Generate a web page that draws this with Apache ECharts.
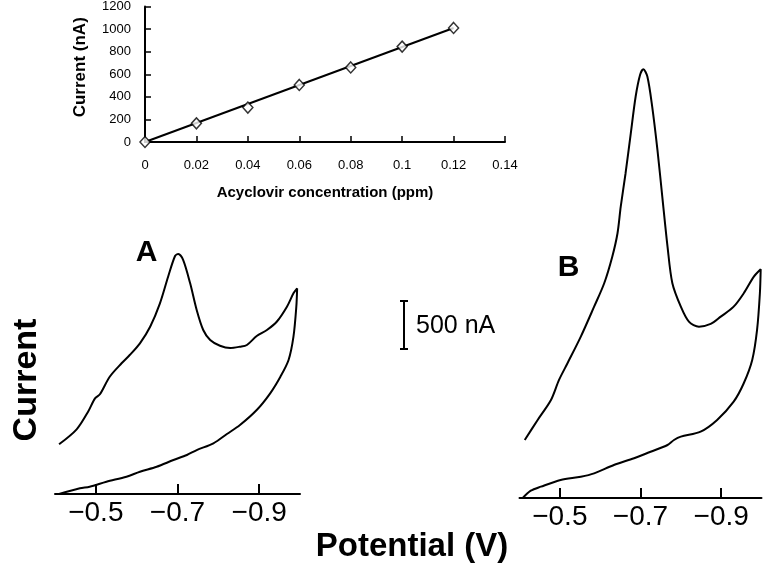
<!DOCTYPE html>
<html>
<head>
<meta charset="utf-8">
<script src="https://cdn.jsdelivr.net/npm/echarts@6/dist/echarts.min.js"></script>
<style>
  html, body { margin: 0; padding: 0; background: #fff; }
  #chart { width: 763px; height: 571px; }
</style>
</head>
<body>
<div id="chart"></div>
<script>
// inset: calibration
const concentrations = [0, 0.02, 0.04, 0.06, 0.08, 0.1, 0.12]
const peakCurrents = [0, 165, 305, 505, 660, 845, 1010]
const fitLine = [[0, 0], [0.12, 1010]]

// voltammograms (potential in V, current in nA above baseline)
const potentialA = [
  -0.410, -0.453, -0.481, -0.498, -0.510, -0.534, -0.563, -0.583, -0.608, -0.633,
  -0.657, -0.677, -0.694, -0.702, -0.714, -0.731, -0.747, -0.763, -0.780, -0.804,
  -0.829, -0.853, -0.870, -0.894, -0.919, -0.943, -0.968, -0.984, -0.993,
  -0.991, -0.984, -0.972, -0.952, -0.927, -0.894, -0.853, -0.821, -0.788, -0.747,
  -0.723, -0.690, -0.649, -0.608, -0.575, -0.526, -0.485, -0.461, -0.410
]
const currentA = [
  518, 674, 858, 997, 1039, 1222, 1362, 1448, 1570, 1743,
  1987, 2264, 2480, 2501, 2438, 2195, 1917, 1709, 1605, 1545,
  1521, 1535, 1553, 1646, 1709, 1795, 1952, 2091, 2143,
  1952, 1639, 1396, 1222, 1049, 875, 719, 625, 528, 458,
  406, 354, 284, 232, 180, 128, 76, 59, 0
]
const potentialB = [
  -0.413, -0.445, -0.478, -0.498, -0.519, -0.552, -0.585, -0.610, -0.630, -0.643,
  -0.651, -0.663, -0.676, -0.688, -0.699, -0.707, -0.717, -0.729, -0.742, -0.754,
  -0.767, -0.779, -0.800, -0.820, -0.845, -0.874, -0.899, -0.931, -0.956, -0.981,
  -0.998,
  -0.996, -0.989, -0.977, -0.956, -0.931, -0.890, -0.849, -0.800, -0.783, -0.767,
  -0.725, -0.684, -0.634, -0.585, -0.552, -0.502, -0.453, -0.428, -0.408
]
const currentB = [
  604, 813, 1021, 1230, 1404, 1681, 1993, 2237, 2514, 2758,
  3035, 3383, 3800, 4182, 4408, 4467, 4390, 4077, 3626, 3140,
  2619, 2237, 1993, 1837, 1785, 1813, 1889, 1993, 2133, 2306,
  2383,
  2133, 1751, 1438, 1195, 1003, 813, 691, 639, 604, 552,
  482, 414, 344, 257, 222, 188, 118, 76, 0
]
const potentialTicks = [-0.5, -0.7, -0.9]

const zip = (xs, ys) => xs.map((x, i) => [x, ys[i]])
const FONT = 'Liberation Sans, Arial, sans-serif'

const chart = echarts.init(document.getElementById('chart'), null, { renderer: 'canvas' })

const potentialAxis = (gridIndex) => ({
  type: 'value',
  gridIndex,
  min: -1.0,
  max: -0.4,
  inverse: true,
  splitLine: { show: false },
  axisLine: { lineStyle: { color: '#000', width: 2 } },
  axisTick: { inside: true, length: 10, customValues: potentialTicks, lineStyle: { color: '#000', width: 2 } },
  axisLabel: {
    customValues: potentialTicks,
    margin: 5,
    color: '#000',
    fontSize: 28,
    fontFamily: FONT,
    formatter: v => '\u2212' + Math.abs(v).toFixed(1)
  }
})

const traceStyle = { color: '#000', width: 2 }

chart.setOption({
  animation: false,
  backgroundColor: '#fff',
  grid: [
    { left: 145, top: 5, width: 360, height: 137 },
    { left: 55, top: 244.5, width: 245, height: 249.5 },
    { left: 519.5, top: 66, width: 242, height: 432 }
  ],
  xAxis: [
    {
      type: 'value',
      gridIndex: 0,
      min: 0,
      max: 0.14,
      interval: 0.02,
      name: 'Acyclovir concentration (ppm)',
      nameLocation: 'middle',
      nameGap: 43,
      nameTextStyle: { color: '#000', fontSize: 15, fontWeight: 'bold', fontFamily: FONT },
      splitLine: { show: false },
      axisLine: { lineStyle: { color: '#000', width: 2 } },
      axisTick: { inside: true, length: 6, lineStyle: { color: '#000', width: 1.5 } },
      axisLabel: {
        margin: 17,
        color: '#000',
        fontSize: 13,
        fontFamily: FONT,
        formatter: v => String(Number(v.toFixed(2)))
      }
    },
    potentialAxis(1),
    potentialAxis(2)
  ],
  yAxis: [
    {
      type: 'value',
      gridIndex: 0,
      min: 0,
      max: 1200,
      interval: 200,
      name: 'Current (nA)',
      nameLocation: 'middle',
      nameGap: 56,
      nameTextStyle: { color: '#000', fontSize: 17, fontWeight: 'bold', fontFamily: FONT, padding: [0, 0, 0, 14] },
      splitLine: { show: false },
      axisLine: { lineStyle: { color: '#000', width: 2 } },
      axisTick: { inside: true, length: 6, lineStyle: { color: '#000', width: 1.5 } },
      axisLabel: { margin: 14, color: '#000', fontSize: 13, fontFamily: FONT, formatter: v => String(v) }
    },
    { type: 'value', gridIndex: 1, min: 0, max: 2600, show: false },
    { type: 'value', gridIndex: 2, min: 0, max: 4500, show: false }
  ],
  series: [
    {
      type: 'line',
      xAxisIndex: 0,
      yAxisIndex: 0,
      data: fitLine,
      symbol: 'none',
      lineStyle: traceStyle,
      z: 2
    },
    {
      type: 'scatter',
      xAxisIndex: 0,
      yAxisIndex: 0,
      data: zip(concentrations, peakCurrents),
      symbol: 'diamond',
      symbolSize: [10, 11],
      itemStyle: { color: '#fff', borderColor: '#000', borderWidth: 1.5 },
      z: 3
    },
    {
      type: 'line',
      xAxisIndex: 1,
      yAxisIndex: 1,
      data: zip(potentialA, currentA),
      symbol: 'none',
      smooth: 0.3,
      lineStyle: traceStyle
    },
    {
      type: 'line',
      xAxisIndex: 2,
      yAxisIndex: 2,
      data: zip(potentialB, currentB),
      symbol: 'none',
      smooth: 0.3,
      lineStyle: traceStyle
    }
  ],
  graphic: [
    {
      type: 'text', x: 27, y: 380, rotation: Math.PI / 2,
      style: { text: 'Current', fill: '#000', font: 'bold 34px "Liberation Sans", Arial, sans-serif', align: 'center', verticalAlign: 'middle' }
    },
    {
      type: 'text', x: 412, y: 547,
      style: { text: 'Potential (V)', fill: '#000', font: 'bold 33px "Liberation Sans", Arial, sans-serif', align: 'center', verticalAlign: 'middle' }
    },
    {
      type: 'text', x: 146.5, y: 253,
      style: { text: 'A', fill: '#000', font: 'bold 30px "Liberation Sans", Arial, sans-serif', align: 'center', verticalAlign: 'middle' }
    },
    {
      type: 'text', x: 568.5, y: 268,
      style: { text: 'B', fill: '#000', font: 'bold 30px "Liberation Sans", Arial, sans-serif', align: 'center', verticalAlign: 'middle' }
    },
    // 500 nA scale bar
    { type: 'line', shape: { x1: 404, y1: 301, x2: 404, y2: 349 }, style: { stroke: '#000', lineWidth: 2 } },
    { type: 'line', shape: { x1: 400, y1: 301, x2: 408, y2: 301 }, style: { stroke: '#000', lineWidth: 2 } },
    { type: 'line', shape: { x1: 400, y1: 349, x2: 408, y2: 349 }, style: { stroke: '#000', lineWidth: 2 } },
    {
      type: 'text', x: 416, y: 326,
      style: { text: '500 nA', fill: '#000', font: '25px "Liberation Sans", Arial, sans-serif', align: 'left', verticalAlign: 'middle' }
    }
  ]
})
</script>
</body>
</html>
